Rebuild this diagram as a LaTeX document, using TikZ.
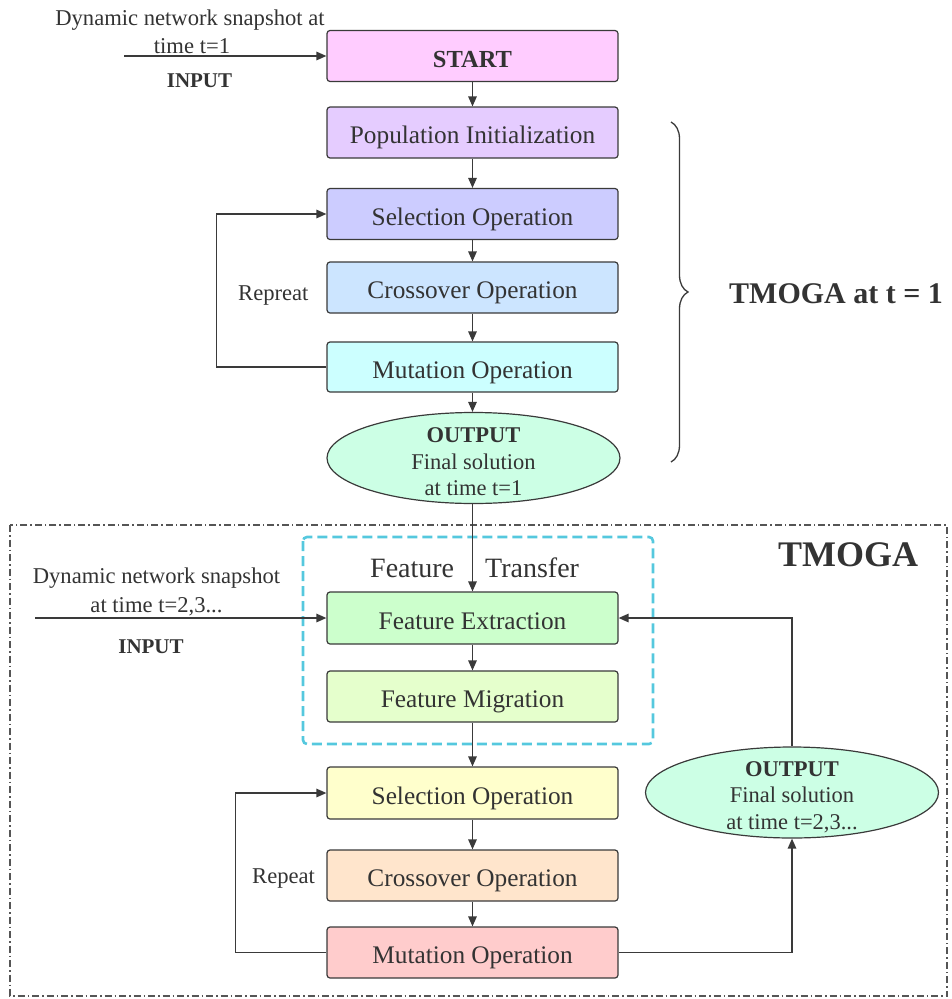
\documentclass[tikz,border=0pt]{standalone}
\usepackage{fontspec}
\setmainfont{Liberation Serif}
\usetikzlibrary{arrows.meta,shapes.geometric,decorations.pathreplacing}
\definecolor{txt}{HTML}{333333}
\definecolor{linec}{HTML}{3A3A3A}
\definecolor{cstart}{HTML}{FFCCFF}
\definecolor{cpop}{HTML}{E5CCFF}
\definecolor{csela}{HTML}{CCCCFF}
\definecolor{ccra}{HTML}{CCE5FF}
\definecolor{cmuta}{HTML}{CCFFFF}
\definecolor{cout}{HTML}{CCFFE5}
\definecolor{cfe}{HTML}{CCFFCC}
\definecolor{cfm}{HTML}{E5FFCC}
\definecolor{cselb}{HTML}{FFFFCC}
\definecolor{ccrb}{HTML}{FFE5CC}
\definecolor{cmutb}{HTML}{FFCCCC}
\definecolor{ccyan}{HTML}{55C8DE}
\definecolor{cframe}{HTML}{555555}
\begin{document}
\begin{tikzpicture}[x=1pt,y=-1pt,
  box/.style={draw=linec, line width=1.2pt, rounded corners=3pt, minimum width=291pt,
    minimum height=51pt, inner sep=0pt, text height=22pt, text depth=0pt,
    text=txt, font=\fontsize{25.3}{29}\selectfont},
  oval/.style={ellipse, draw=linec, line width=1.2pt, fill=cout, minimum width=293pt,
    minimum height=91pt, inner sep=0pt},
  ovtext/.style={text=txt, inner sep=0pt, align=center, font=\fontsize{22.5}{26.5}\selectfont},
  arr/.style={draw=linec, line width=1.4pt, -{Triangle[length=10pt,width=8.5pt]}},
  lbl/.style={text=txt, inner sep=0pt, font=\fontsize{22.6}{26}\selectfont, anchor=base},
  bl/.style={text=txt, inner sep=0pt, font=\fontsize{21}{24}\selectfont\bfseries, anchor=base}
]
\useasboundingbox (0,0) rectangle (952,999);

% frames
\draw[cframe, line width=1.1pt, dash pattern=on 7pt off 3pt on 1.5pt off 3pt] (10,525) rectangle (947,996);
\draw[ccyan, line width=2.6pt, dash pattern=on 10pt off 5pt, rounded corners=4pt] (303,537) rectangle (653,744);

% top part
\node[box, fill=cstart, font=\fontsize{24.5}{28}\selectfont\bfseries] (start) at (472.5,56) {START};
\node[box, fill=cpop] (pop) at (472.5,132.5) {Population Initialization};
\node[box, fill=csela] (sel1) at (472.5,214) {Selection Operation};
\node[box, fill=ccra] (cr1) at (472.5,287.5) {Crossover Operation};
\node[box, fill=cmuta, minimum height=50pt] (mut1) at (472.5,367) {Mutation Operation};
\node[oval] (out1) at (473.5,458) {};
\node[ovtext] (out1t) at (473.5,462) {{\bfseries OUTPUT}\\Final solution\\at time t=1};

\node[lbl] (in1a) at (190,25) {Dynamic network snapshot at};
\node[lbl] (in1b) at (192,53) {time t=1};
\node[bl] (in1l) at (199.5,87) {INPUT};
\coordinate (in1) at (124,56);
\draw[arr] (in1) -- (start.west);

\draw[arr] (start) -- (pop);
\draw[arr] (pop) -- (sel1);
\draw[arr] (sel1) -- (cr1);
\draw[arr] (cr1) -- (mut1);
\draw[arr] (mut1.south) -- (mut1.south |- out1.north);
\draw[arr] (mut1.west) -- ++(-110,0) |- (sel1.west);
\node[lbl, anchor=base west] (rep1) at (238,300) {Repreat};

\draw[linec, line width=1.3pt, decorate, decoration={brace, amplitude=17pt}] (671,122) -- (671,462);
\node[text=txt, inner sep=0pt, anchor=base west, font=\fontsize{30}{34}\selectfont\bfseries] (tm1) at (729,303) {TMOGA at t = 1};

% bottom part
\node[text=txt, inner sep=0pt, font=\fontsize{36}{40}\selectfont\bfseries] (tm) at (848,555) {TMOGA};
\node[text=txt, inner sep=0pt, anchor=base west, font=\fontsize{28}{32}\selectfont] (ft1) at (370,577) {Feature};
\node[text=txt, inner sep=0pt, anchor=base west, font=\fontsize{28}{32}\selectfont] (ft2) at (485,577) {Transfer};

\node[box, fill=cfe, minimum height=52pt] (fe) at (472.5,618) {Feature Extraction};
\node[box, fill=cfm] (fm) at (472.5,696.5) {Feature Migration};
\node[box, fill=cselb, minimum height=52pt] (sel2) at (472.5,793) {Selection Operation};
\node[box, fill=ccrb] (cr2) at (472.5,875.5) {Crossover Operation};
\node[box, fill=cmutb] (mut2) at (472.5,952.5) {Mutation Operation};
\node[oval] (out2) at (792,792.5) {};
\node[ovtext] (out2t) at (792,797) {{\bfseries OUTPUT}\\Final solution\\at time t=2,3...};

\node[lbl] (in2a) at (156.5,583) {Dynamic network snapshot};
\node[lbl] (in2b) at (156.5,612) {at time t=2,3...};
\node[bl] (in2l) at (151,653) {INPUT};
\coordinate (in2) at (35,618);
\draw[arr] (in2) -- (fe.west);

\draw[arr] (fe.north |- out1.south) -- (fe.north);
\draw[arr] (fe) -- (fm);
\draw[arr] (fm) -- (sel2);
\draw[arr] (sel2) -- (cr2);
\draw[arr] (cr2) -- (mut2);
\draw[arr] (mut2.west) -- ++(-91,0) |- (sel2.west);
\node[lbl, anchor=base west] (rep2) at (252,883) {Repeat};
\draw[arr] (mut2.east) -| (out2.south);
\draw[arr] (out2.north) |- (fe.east);
\end{tikzpicture}
\end{document}
